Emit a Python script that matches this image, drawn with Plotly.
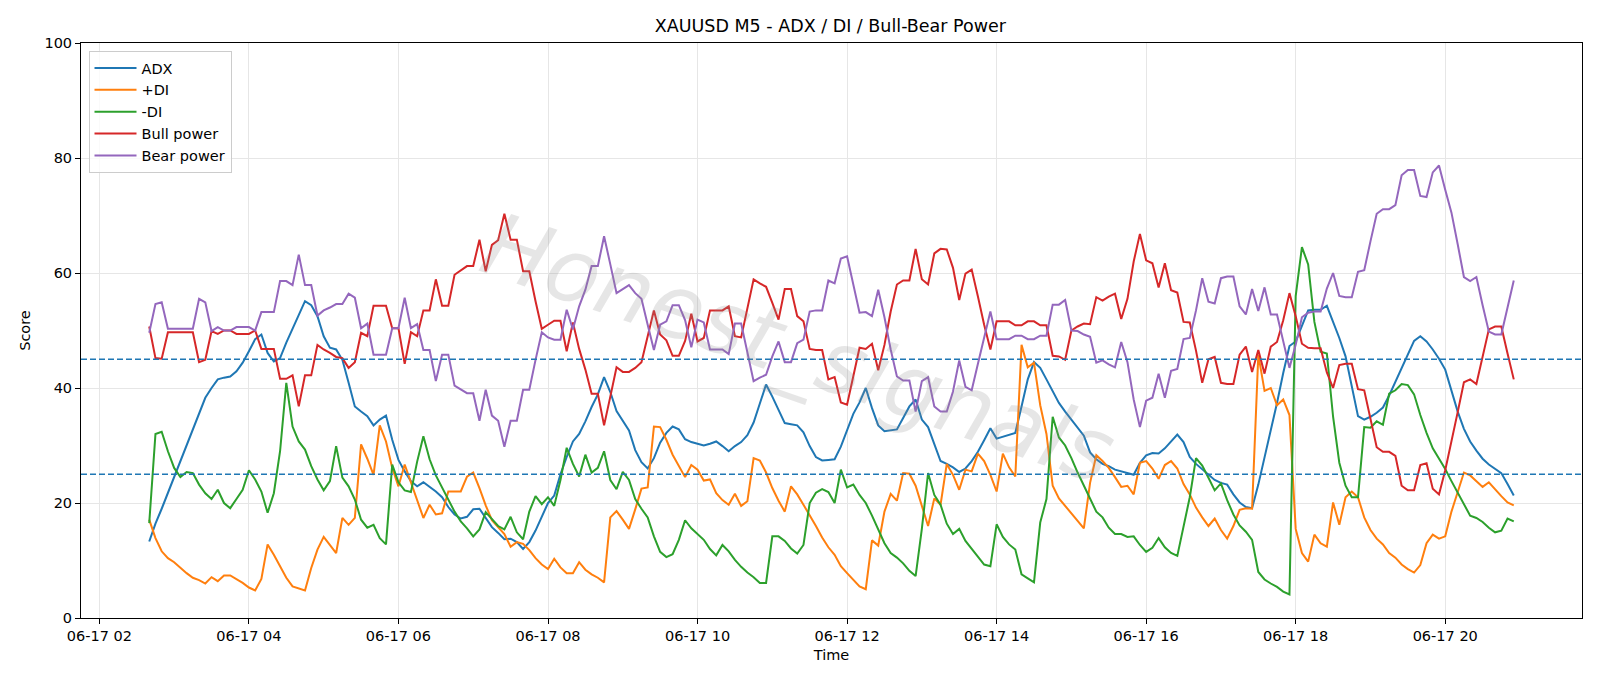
import pandas as pd
import plotly.graph_objects as go

# ---- data (5-minute bars, 06-17 02:40 .. 20:55) ----
start_time = "2025-06-17 02:40"
n_points = 220
times = pd.date_range(start_time, periods=n_points, freq="5min")

adx = [
    13.3, 16.4, 19.0, 21.8, 24.6, 27.3, 30.0, 32.8, 35.6, 38.3,
    40.0, 41.5, 41.8, 42.0, 42.9, 44.4, 46.4, 48.5, 49.3, 46.1,
    44.6, 45.2, 47.9, 50.2, 52.6, 55.1, 54.4, 52.5, 49.0, 47.0,
    46.7, 44.9, 40.9, 36.8, 35.9, 35.1, 33.5, 34.5, 35.2, 31.0,
    27.5, 25.5, 23.8, 22.9, 23.6, 22.8, 22.0, 21.0, 19.3, 18.0,
    17.3, 17.6, 18.9, 19.0, 17.4, 15.8, 14.8, 13.7, 13.8, 13.2,
    12.0, 13.2, 15.2, 17.5, 20.0, 21.3, 25.0, 28.0, 30.7, 32.0,
    34.2, 36.7, 38.9, 41.9, 39.3, 36.0, 34.4, 32.6, 29.2, 27.1,
    26.0, 27.8, 30.5, 32.2, 33.3, 32.8, 31.1, 30.6, 30.3, 30.0,
    30.3, 30.7, 29.9, 29.0, 29.9, 30.6, 31.8, 34.0, 37.3, 40.6,
    38.5, 36.3, 33.9, 33.7, 33.5, 32.3, 29.9, 28.0, 27.4, 27.5,
    27.6, 29.8, 32.5, 35.5, 37.5, 40.0, 36.5, 33.5, 32.5, 32.6,
    32.8, 34.8, 36.8, 38.0, 34.5, 33.2, 30.3, 27.3, 26.8, 26.2,
    25.4, 26.0, 27.3, 28.9, 30.9, 33.0, 31.2, 31.5, 31.9, 32.2,
    36.8, 41.5, 44.5, 43.5, 41.5, 39.4, 37.4, 35.9, 34.5, 33.1,
    31.7, 28.8, 27.6, 26.8, 26.4, 25.8, 25.5, 25.3, 24.9, 27.0,
    28.3, 28.7, 28.6, 29.5, 30.8, 31.9, 30.6, 28.0, 26.8, 25.9,
    25.0, 24.0, 23.5, 23.2, 21.5, 20.1, 19.3, 19.1, 23.2, 27.8,
    32.5, 37.4, 42.6, 47.3, 48.1, 50.7, 53.5, 53.6, 53.6, 54.3,
    51.6, 48.7, 45.5, 40.3, 35.1, 34.5, 35.0, 35.7, 36.6, 38.7,
    41.1, 43.7, 46.1, 48.2, 49.0, 48.1, 46.7, 45.1, 43.2, 39.6,
    35.9, 32.9, 30.7, 29.1, 27.7, 26.7, 25.9, 25.2, 23.3, 21.3,
]

plus_di = [
    17.1, 13.9, 11.6, 10.4, 9.7, 8.7, 7.8, 7.0, 6.6, 6.0,
    7.1, 6.4, 7.4, 7.4, 6.8, 6.1, 5.3, 4.8, 6.8, 12.8,
    11.0, 9.0, 7.0, 5.5, 5.1, 4.8, 8.7, 11.9, 14.1, 12.8,
    11.3, 17.4, 16.2, 17.4, 30.2, 27.7, 24.9, 33.5, 30.7, 26.1,
    22.9, 26.7, 23.5, 20.3, 17.4, 19.7, 18.0, 18.2, 22.0, 22.0,
    22.0, 24.6, 25.3, 22.6, 19.6, 17.0, 15.8, 14.6, 12.4, 13.2,
    12.9, 11.8, 10.4, 9.3, 8.5, 10.3, 8.8, 7.8, 7.8, 9.7,
    8.4, 7.6, 7.0, 6.2, 17.5, 18.6, 17.1, 15.5, 18.9, 22.5,
    22.7, 33.3, 33.2, 31.0, 28.4, 26.4, 24.5, 26.6, 25.8, 23.9,
    24.1, 21.7, 20.5, 19.7, 21.6, 19.5, 20.3, 27.8, 27.4, 25.3,
    22.6, 20.4, 18.5, 22.9, 21.5, 19.7, 17.9, 16.0, 14.0, 12.3,
    11.0, 9.0, 7.8, 6.6, 5.5, 5.0, 13.5, 12.6, 18.5, 21.6,
    20.4, 25.2, 25.1, 23.0, 19.6, 16.0, 20.8, 19.7, 26.8, 24.9,
    22.3, 25.8, 25.5, 28.6, 27.3, 24.9, 22.0, 28.6, 26.2, 24.6,
    47.5, 43.6, 44.4, 37.0, 32.0, 23.0, 20.8, 19.5, 18.4, 17.0,
    15.6, 23.5, 28.3, 27.3, 26.1, 24.5, 22.8, 23.0, 21.5, 27.0,
    27.3, 26.0, 24.2, 26.6, 27.3, 26.0, 23.3, 21.5, 19.2, 17.5,
    16.0, 17.3, 15.3, 13.8, 16.0, 18.8, 19.1, 19.0, 45.8, 39.5,
    40.0, 37.0, 38.0, 35.3, 15.5, 11.3, 9.8, 14.5, 13.0, 12.4,
    20.1, 16.2, 21.0, 22.0, 21.0, 17.5, 15.3, 13.8, 12.8, 11.3,
    10.5, 9.3, 8.5, 7.9, 9.2, 13.0, 14.5, 13.8, 14.2, 18.5,
    22.0, 25.3, 24.8, 23.8, 22.8, 23.6, 22.3, 21.2, 20.1, 19.6,
]

minus_di = [
    16.5, 32.0, 32.4, 29.0, 26.1, 24.5, 25.4, 25.2, 23.2, 21.7,
    20.7, 22.3, 20.0, 19.1, 20.7, 22.3, 25.7, 24.1, 22.0, 18.3,
    21.7, 29.0, 40.9, 33.3, 30.7, 29.3, 26.4, 24.1, 22.2, 23.8,
    29.9, 24.4, 22.9, 20.6, 17.1, 15.7, 16.2, 13.9, 12.8, 26.7,
    23.6, 22.2, 21.9, 27.2, 31.6, 27.6, 24.8, 22.7, 20.5, 18.5,
    16.8, 15.6, 14.2, 15.4, 18.4, 17.2, 16.0, 15.4, 17.6, 14.9,
    13.7, 18.5, 21.2, 19.8, 21.0, 19.5, 24.0, 29.6, 26.8, 24.6,
    28.4, 25.3, 26.1, 29.0, 24.0, 22.4, 25.4, 24.0, 20.7, 19.0,
    17.5, 14.2, 11.5, 10.6, 11.1, 13.6, 17.0, 15.6, 14.6, 13.6,
    12.0, 10.9, 12.7, 11.6, 10.1, 8.9, 7.9, 7.1, 6.1, 6.1,
    14.2, 14.2, 13.4, 12.1, 11.2, 12.7, 20.0, 21.8, 22.4, 21.9,
    20.0, 25.8, 22.7, 23.2, 21.4, 20.0, 17.8, 15.5, 13.0, 11.3,
    10.5, 9.5, 8.2, 7.3, 15.5, 25.2, 21.4, 19.7, 16.4, 14.6,
    15.5, 13.4, 12.0, 10.8, 9.3, 9.0, 16.3, 14.1, 12.8, 11.9,
    7.6, 6.9, 6.2, 16.6, 20.7, 35.0, 31.4, 30.0, 27.8, 25.3,
    23.0, 20.7, 18.5, 17.5, 15.7, 14.6, 14.6, 14.1, 14.2, 12.7,
    11.5, 12.2, 13.9, 12.3, 11.3, 10.8, 16.0, 21.0, 27.8, 26.5,
    24.4, 22.2, 23.4, 20.5, 18.0, 16.1, 15.0, 13.6, 8.0, 6.7,
    6.0, 5.4, 4.6, 4.1, 56.0, 64.5, 61.5, 51.5, 46.3, 46.0,
    35.0, 27.0, 23.0, 21.0, 21.0, 33.2, 33.1, 34.2, 33.6, 39.0,
    39.6, 40.7, 40.5, 38.9, 35.3, 32.2, 29.5, 27.7, 25.9, 23.8,
    21.8, 19.8, 17.8, 17.4, 16.7, 15.7, 14.9, 15.2, 17.3, 16.8,
]

bull_power = [
    50.7, 45.2, 45.1, 49.7, 49.7, 49.7, 49.7, 49.7, 44.5, 44.9,
    49.9, 49.4, 50.0, 50.0, 49.4, 49.4, 49.4, 50.0, 46.8, 46.8,
    46.8, 41.6, 41.6, 42.2, 36.8, 42.2, 42.2, 47.5, 46.7, 46.1,
    45.4, 45.2, 43.5, 44.5, 49.6, 49.0, 54.3, 54.3, 54.3, 50.4,
    50.4, 44.2, 49.7, 49.0, 53.5, 53.5, 58.9, 54.3, 54.3, 59.7,
    60.5, 61.2, 61.2, 65.8, 60.3, 64.9, 65.7, 70.3, 65.8, 65.8,
    60.3, 60.3, 55.1, 50.3, 51.0, 51.7, 51.7, 46.4, 51.4, 46.8,
    43.2, 39.0, 39.0, 33.5, 38.5, 43.6, 42.8, 42.8, 43.5, 44.5,
    49.0, 53.5, 49.3, 48.3, 45.6, 45.6, 48.2, 52.9, 48.1, 48.7,
    53.5, 53.5, 53.5, 54.2, 49.0, 48.8, 54.0, 58.9, 58.2, 57.6,
    54.8, 51.9, 57.2, 57.2, 52.5, 51.6, 46.8, 46.6, 46.6, 41.5,
    41.9, 37.5, 37.1, 42.0, 47.0, 46.8, 47.7, 43.1, 47.5, 53.3,
    58.0, 58.7, 58.7, 64.2, 58.9, 58.0, 63.4, 64.2, 64.1, 60.9,
    55.3, 59.9, 60.6, 55.9, 51.0, 46.7, 51.6, 51.6, 51.6, 50.9,
    50.9, 51.6, 51.6, 50.9, 50.9, 45.6, 45.5, 44.9, 50.0, 50.7,
    51.2, 51.1, 55.8, 55.2, 55.9, 56.4, 52.0, 55.5, 62.0, 66.8,
    62.2, 61.7, 57.5, 61.7, 57.0, 56.6, 51.5, 51.4, 46.5, 40.9,
    45.0, 45.4, 40.9, 40.7, 40.7, 45.8, 47.2, 42.8, 46.6, 42.5,
    47.2, 48.0, 51.8, 56.5, 52.5, 47.7, 47.0, 46.9, 46.9, 42.7,
    40.0, 44.0, 44.2, 44.2, 39.8, 39.6, 34.5, 29.7, 28.9, 28.9,
    28.2, 23.0, 22.2, 22.2, 26.6, 26.9, 22.5, 21.5, 25.7, 30.5,
    35.8, 41.0, 41.5, 40.7, 45.6, 50.2, 50.7, 50.7, 46.0, 41.5,
]

bear_power = [
    49.6, 54.6, 54.9, 50.3, 50.3, 50.3, 50.3, 50.3, 55.5, 54.9,
    49.9, 50.6, 50.0, 50.0, 50.6, 50.6, 50.6, 50.0, 53.2, 53.2,
    53.2, 58.6, 58.6, 57.9, 63.2, 57.9, 57.9, 52.6, 53.5, 54.0,
    54.6, 54.6, 56.4, 55.7, 50.4, 51.2, 45.8, 45.8, 45.8, 50.4,
    50.4, 55.7, 50.4, 51.1, 46.6, 46.6, 41.2, 45.8, 45.8, 40.4,
    39.7, 39.1, 39.1, 34.3, 39.7, 35.2, 34.3, 29.8, 34.3, 34.3,
    39.7, 39.7, 44.9, 49.7, 48.8, 48.4, 48.4, 53.6, 50.2, 54.2,
    57.1, 61.2, 61.2, 66.4, 61.5, 56.5, 57.2, 57.9, 56.5, 55.5,
    51.0, 46.6, 51.0, 51.6, 54.4, 54.4, 51.8, 47.1, 51.9, 51.4,
    46.7, 46.7, 46.7, 45.9, 51.2, 51.2, 46.0, 41.2, 41.8, 42.3,
    45.5, 48.1, 44.5, 44.5, 47.8, 48.4, 53.3, 53.5, 53.5, 58.7,
    58.2, 62.5, 62.9, 58.0, 53.1, 53.2, 52.5, 57.1, 52.3, 46.7,
    42.0, 41.3, 41.3, 35.9, 41.2, 41.9, 36.8, 35.9, 35.9, 39.4,
    44.8, 40.2, 39.6, 44.2, 49.0, 53.3, 48.5, 48.5, 48.5, 49.1,
    49.1, 48.5, 48.5, 49.1, 49.1, 54.5, 54.5, 55.3, 50.0, 49.9,
    49.3, 48.9, 44.4, 44.8, 44.1, 43.6, 48.0, 44.5, 38.0, 33.2,
    37.8, 38.3, 42.5, 38.3, 43.0, 43.3, 48.5, 48.7, 53.5, 59.1,
    55.0, 54.7, 59.1, 59.4, 59.4, 54.2, 52.8, 57.2, 53.4, 57.5,
    52.8, 52.8, 48.2, 43.5, 47.5, 52.3, 53.1, 53.3, 53.3, 57.3,
    60.0, 56.0, 55.8, 55.8, 60.2, 60.5, 65.5, 70.3, 71.1, 71.1,
    71.8, 77.0, 77.9, 77.9, 73.4, 73.2, 77.5, 78.7, 74.5, 70.5,
    65.0, 59.3, 58.6, 59.3, 54.4, 49.8, 49.3, 49.3, 54.0, 58.7,
]

series_names = ["ADX", "+DI", "-DI", "Bull power", "Bear power"]
series_values = [adx, plus_di, minus_di, bull_power, bear_power]
series_colors = ["#1f77b4", "#ff7f0e", "#2ca02c", "#d62728", "#9467bd"]

threshold_levels = [45, 25]
y_tick_values = [0, 20, 40, 60, 80, 100]
x_range = ["2025-06-17 01:45:15", "2025-06-17 21:49:45"]
title_text = "XAUUSD M5 - ADX / DI / Bull-Bear Power"
watermark_text = "Honest_signals"

FONT = "DejaVu Sans, Verdana, sans-serif"

fig = go.Figure()
for name, vals, col in zip(series_names, series_values, series_colors):
    fig.add_trace(go.Scatter(
        x=times, y=vals, mode="lines", name=name,
        line=dict(color=col, width=2),
    ))

for lvl in threshold_levels:
    fig.add_shape(
        type="line", xref="paper", x0=0, x1=1, yref="y", y0=lvl, y1=lvl,
        line=dict(color="#1f77b4", width=1.5, dash="6px,3px"),
    )

fig.add_annotation(
    text=watermark_text, xref="paper", yref="paper", x=0.478, y=0.468,
    showarrow=False, textangle=19,
    font=dict(family="DejaVu Sans, sans-serif", size=88, color="rgba(140,140,140,0.22)",
              style="italic", weight=200),
)

fig.update_layout(
    width=1600, height=686,
    margin=dict(l=81, r=18, t=43, b=68),
    paper_bgcolor="white", plot_bgcolor="white",
    font=dict(family=FONT, size=14.5, color="black"),
    title=dict(text=title_text, x=0.519, xref="container", xanchor="center",
               y=1 - 26 / 686, yref="container", yanchor="middle",
               font=dict(size=17.5, family=FONT, color="black")),
    showlegend=True,
    legend=dict(x=0.005, y=0.986, xanchor="left", yanchor="top",
                bgcolor="rgba(255,255,255,0.8)", bordercolor="#cccccc", borderwidth=1,
                font=dict(size=14.5, family=FONT), tracegroupgap=0, itemwidth=42),
)

fig.update_xaxes(
    range=x_range, type="date",
    tick0="2025-06-17 02:00", dtick=7200000, tickformat="%m-%d %H",
    showgrid=True, gridcolor="#e6e6e6", gridwidth=1,
    showline=True, mirror=True, linecolor="black", linewidth=1,
    ticks="outside", ticklen=5, tickcolor="black", tickwidth=1,
    tickfont=dict(size=14.5, family=FONT),
    title=dict(text="Time", font=dict(size=14.5, family=FONT), standoff=6),
    zeroline=False,
)
fig.update_yaxes(
    range=[0, 100], tickvals=y_tick_values,
    showgrid=True, gridcolor="#e6e6e6", gridwidth=1,
    showline=True, mirror=True, linecolor="black", linewidth=1,
    ticks="outside", ticklen=5, tickcolor="black", tickwidth=1,
    tickfont=dict(size=14.5, family=FONT),
    title=dict(text="Score", font=dict(size=14.5, family=FONT), standoff=10),
    zeroline=False,
)

fig.write_html("out.html")
